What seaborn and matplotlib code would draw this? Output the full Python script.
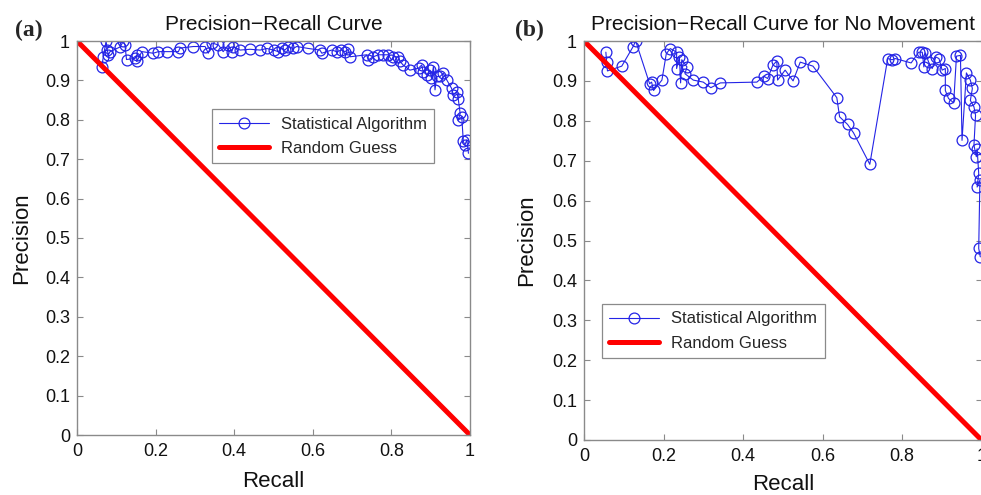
import matplotlib
matplotlib.use("Agg")
import matplotlib.pyplot as plt
import seaborn as sns
import pandas as pd

# ---- data ----
recall_a = [0.063, 0.067, 0.074, 0.077, 0.080, 0.084, 0.110, 0.118, 0.122, 0.126,
            0.148, 0.152, 0.152, 0.165, 0.194, 0.207, 0.228, 0.258, 0.262, 0.296,
            0.326, 0.334, 0.343, 0.360, 0.372, 0.385, 0.394, 0.398, 0.415, 0.440,
            0.466, 0.483, 0.500, 0.512, 0.521, 0.529, 0.538, 0.550, 0.559, 0.589,
            0.618, 0.623, 0.648, 0.661, 0.673, 0.682, 0.690, 0.695, 0.737, 0.741,
            0.754, 0.767, 0.779, 0.792, 0.800, 0.805, 0.818, 0.822, 0.830, 0.847,
            0.869, 0.877, 0.881, 0.890, 0.898, 0.902, 0.907, 0.911, 0.915, 0.924,
            0.932, 0.941, 0.953, 0.958, 0.966, 0.970, 0.975, 0.970, 0.979, 0.983,
            0.987, 0.992, 0.996]
precision_a = [0.935, 0.960, 1.000, 0.977, 0.965, 0.973, 0.985, 1.000, 0.990, 0.953,
               0.956, 0.965, 0.948, 0.973, 0.969, 0.973, 0.973, 0.973, 0.982, 0.986,
               0.986, 0.969, 0.995, 0.990, 0.973, 0.990, 0.973, 0.986, 0.977, 0.979,
               0.977, 0.981, 0.977, 0.973, 0.981, 0.977, 0.986, 0.981, 0.986, 0.981,
               0.977, 0.969, 0.977, 0.973, 0.977, 0.973, 0.979, 0.960, 0.965, 0.952,
               0.960, 0.965, 0.965, 0.965, 0.952, 0.960, 0.960, 0.948, 0.939, 0.926,
               0.931, 0.939, 0.922, 0.914, 0.926, 0.905, 0.935, 0.876, 0.910, 0.910,
               0.918, 0.901, 0.880, 0.863, 0.871, 0.854, 0.816, 0.799, 0.808, 0.745,
               0.736, 0.749, 0.715]

recall_b = [0.055, 0.057, 0.059, 0.095, 0.123, 0.130, 0.165, 0.170, 0.175, 0.196,
            0.207, 0.217, 0.233, 0.233, 0.240, 0.243, 0.246, 0.259, 0.254, 0.275,
            0.300, 0.319, 0.343, 0.435, 0.452, 0.462, 0.475, 0.485, 0.487, 0.506,
            0.526, 0.544, 0.576, 0.636, 0.643, 0.663, 0.678, 0.719, 0.764, 0.775,
            0.783, 0.823, 0.842, 0.851, 0.855, 0.859, 0.867, 0.876, 0.885, 0.893,
            0.901, 0.909, 0.909, 0.917, 0.930, 0.937, 0.947, 0.951, 0.962, 0.972,
            0.977, 0.972, 0.981, 0.985, 0.981, 0.987, 0.989, 0.993, 0.989, 0.996,
            0.993, 0.997]
precision_b = [0.972, 0.947, 0.925, 0.937, 0.985, 1.000, 0.893, 0.897, 0.876, 0.902,
               0.968, 0.981, 0.972, 0.931, 0.960, 0.895, 0.953, 0.935, 0.918, 0.902,
               0.897, 0.883, 0.895, 0.897, 0.912, 0.906, 0.939, 0.950, 0.902, 0.927,
               0.900, 0.947, 0.937, 0.858, 0.810, 0.791, 0.770, 0.691, 0.956, 0.953,
               0.956, 0.945, 0.972, 0.972, 0.935, 0.970, 0.947, 0.931, 0.960, 0.956,
               0.927, 0.931, 0.876, 0.856, 0.845, 0.962, 0.964, 0.751, 0.920, 0.902,
               0.881, 0.851, 0.835, 0.814, 0.739, 0.710, 0.730, 0.668, 0.634, 0.651,
               0.480, 0.459]

random_recall = [0.0, 1.0]
random_precision = [1.0, 0.0]

ticks = [0, 0.1, 0.2, 0.3, 0.4, 0.5, 0.6, 0.7, 0.8, 0.9, 1]
tick_labels = ["0", "0.1", "0.2", "0.3", "0.4", "0.5", "0.6", "0.7", "0.8", "0.9", "1"]
xticks = [0, 0.2, 0.4, 0.6, 0.8, 1]
xtick_labels = ["0", "0.2", "0.4", "0.6", "0.8", "1"]

titles = ["Precision\u2212Recall Curve", "Precision\u2212Recall Curve for No Movement"]
panel_tags = ["(a)", "(b)"]

# ---- style ----
sns.set_theme(style="white")
plt.rcParams["font.family"] = ["Liberation Sans", "DejaVu Sans"]

BLUE = "#2424e6"
RED = "#ff0000"
SPINE = "#8a8a8a"

fig = plt.figure(figsize=(9.81, 4.95), dpi=100)
W, H = 981.0, 495.0
# axes boxes in pixels: (left, top, right, bottom)
boxes = [(77, 41, 470, 435), (584, 41, 981.5, 440)]
axes = []
for (l, t, r, b) in boxes:
    ax = fig.add_axes([l / W, (H - b) / H, (r - l) / W, (b - t) / H])
    axes.append(ax)

datasets = [(recall_a, precision_a), (recall_b, precision_b)]
legend_anchor = [(0.343, 0.827), (0.045, 0.341)]
ylabelpads = [9, 11]
xlabelpads = [8, 6]

for i, ax in enumerate(axes):
    rec, prec = datasets[i]
    df = pd.DataFrame({"Recall": rec, "Precision": prec})
    sns.lineplot(data=df, x="Recall", y="Precision", ax=ax, sort=False, estimator=None,
                 color=BLUE, linewidth=0.8, marker="o", markersize=7.8,
                 markerfacecolor="none", markeredgecolor=BLUE, markeredgewidth=0.9,
                 label="Statistical Algorithm", legend=False)
    dr = pd.DataFrame({"Recall": random_recall, "Precision": random_precision})
    sns.lineplot(data=dr, x="Recall", y="Precision", ax=ax, sort=False, estimator=None,
                 color=RED, linewidth=3.6, label="Random Guess", legend=False)

    ax.set_xlim(0, 1)
    ax.set_ylim(0, 1)
    ax.set_xticks(xticks)
    ax.set_xticklabels(xtick_labels)
    ax.set_yticks(ticks)
    ax.set_yticklabels(tick_labels)
    ax.tick_params(axis="both", direction="in", length=4, width=0.8, color=SPINE,
                   labelsize=13, labelcolor="#111111", top=True, right=True,
                   bottom=True, left=True)
    ax.tick_params(axis="x", pad=6)
    ax.tick_params(axis="y", pad=5)
    for s in ax.spines.values():
        s.set_color(SPINE)
        s.set_linewidth(1.0)
        s.set_visible(True)
    ax.set_xlabel("Recall", fontsize=16, labelpad=xlabelpads[i], color="#111111")
    ax.set_ylabel("Precision", fontsize=16, labelpad=ylabelpads[i], color="#111111")
    ax.set_title(titles[i], fontsize=15, pad=8, color="#111111")

    leg = ax.legend(loc="upper left", bbox_to_anchor=legend_anchor[i], borderaxespad=0,
                    fontsize=12, frameon=True, fancybox=False, framealpha=1,
                    edgecolor=SPINE, handlelength=3.0, handletextpad=0.7,
                    labelspacing=0.55, borderpad=0.45, numpoints=1)
    leg.get_frame().set_linewidth(0.9)

fig.text(15 / W, 1 - 30 / H, panel_tags[0], fontsize=17, fontweight="bold",
         family="Liberation Serif", va="center", ha="left")
fig.text(515 / W, 1 - 30 / H, panel_tags[1], fontsize=17, fontweight="bold",
         family="Liberation Serif", va="center", ha="left")

fig.savefig("out.png", dpi=100, facecolor="white")
